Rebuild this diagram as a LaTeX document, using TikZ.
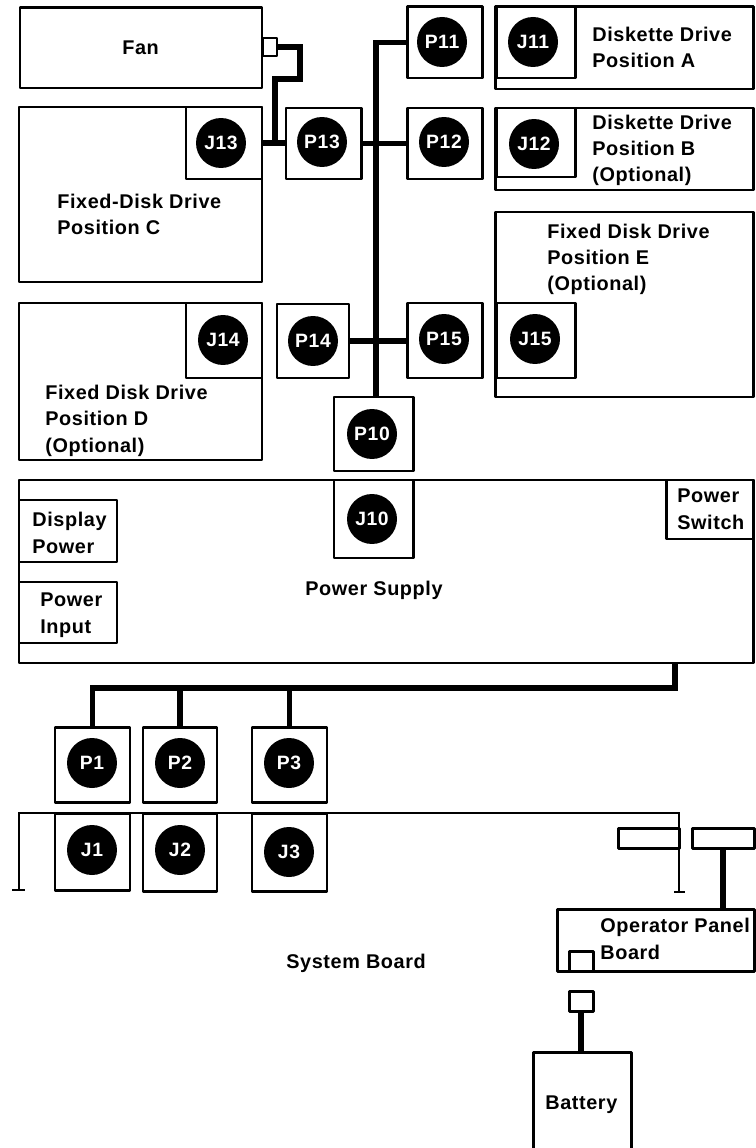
\documentclass[tikz,border=0pt]{standalone}
\usepackage{fontspec}
\setmainfont[LetterSpace=3,BoldFont={Liberation Sans Bold}]{Liberation Sans}
\usepackage{xcolor}
\begin{document}
\begin{tikzpicture}[
  x=0.02cm,y=-0.02cm,
  box/.style={draw=black, line width=1.7pt, line join=round, inner sep=0pt, minimum width={(#1)*0.02cm}},
  conn/.style={circle, fill=black, text=white, font=\fontsize{11}{13}\selectfont\bfseries, minimum size=1cm, inner sep=0pt},
  lbl/.style={anchor=base west, inner sep=0pt, align=left, font=\fontsize{11.3}{15}\selectfont\bfseries},
  wire/.style={line width=3pt, line join=miter},
  thinw/.style={line width=1.5pt}]
\useasboundingbox (0,0) rectangle (755,1148);
% units and drives
\foreach \n/\l/\t/\r/\b in {fan/20/8/262/88, fanplug/263/38/277/56, drvc/19/107/262/282, drvd/19/303/262/460,
    drva/495/7/753/89, drvb/495/108/753/190, drve/495/212/753/397, psu/19/480/753/663,
    disp/19/500/117/562, pwrin/19/582/117/643, pwrsw/666/480/753/539,
    brdl/618/828/679/848, brdr/692/828/754/848, panel/557/909/754/971, panplug/569/951/593/971,
    batplug/569/991/593/1011, battery/533/1052/631/1160}
  \node[box={\r-\l}, minimum height={(\b-\t)*0.02cm}] (\n) at ({(\l+\r)/2},{(\t+\b)/2}) {};
% plug and jack squares with their round labels
\foreach \n/\l/\t/\r/\b/\cx/\cy in {P11/407/7/482/78/442/42, J11/496/7/575/78/533/42, P12/407/108/482/179/444/142,
    J12/496/108/575/177/534/144, J13/186/107/262/179/221/143, P13/286/108/361/179/322/142,
    J14/186/303/262/378/223/340, P14/277/304/349/378/313/341, P15/407/303/482/378/444/339,
    J15/496/303/575/378/535/339, P10/334/397/413/471/372/434, J10/334/480/413/558/372/519,
    P1/55/727/130/802/92/763, P2/143/727/217/802/180/763, P3/252/727/327/802/289/763,
    J1/55/813/130/890/92/850, J2/143/813/217/891/180/850, J3/252/813/327/891/289/852} {
  \node[box={\r-\l}, minimum height={(\b-\t)*0.02cm}] (\n) at ({(\l+\r)/2},{(\t+\b)/2}) {};
  \node[conn] (\n c) at (\cx,\cy) {\n};
}
% wiring
\coordinate (bustop) at (376,42.5);
\coordinate (fanbend) at (300,79);
\coordinate (fandrop) at (275,143);
\coordinate (psuout) at (675,688);
\coordinate (panwire) at (723,848);
\draw[wire] (P11.west) -- (bustop) -- (bustop |- P10.north);
\draw[wire] (J13.east) -- (J13.east -| P13.west);
\draw[wire] (P13.east) -- (P13.east -| P12.west);
\draw[wire] (P14.east) -- (P14.east -| P15.west);
\draw[wire] (fanplug.east) -| (fanbend) -- (fanbend -| fandrop) -- (fandrop);
\draw[wire] (psuout |- psu.south) -- (psuout) -| (P1.north);
\draw[wire] (P2.north) -- (P2.north |- psuout);
\draw[wire] (P3.north) -- (P3.north |- psuout);
\draw[wire] (panwire) -- (panwire |- panel.north);
\draw[wire] (batplug.south) -- (batplug.south |- battery.north);
% system board outline
\coordinate (sbl) at (19,813);
\coordinate (sbr) at (679,813);
\draw[thinw] (12,890) -- (25,890);
\draw[thinw] (19,890) -- (sbl) -- (sbr) -- (679,892);
\draw[thinw] (674,892) -- (685,892);
% text
\node[lbl] (tfan) at (122,55) {Fan};
\node[lbl] (tdrvc) at (57,235) {Fixed-Disk Drive\\Position C};
\node[lbl] (tdrvd) at (45,452) {Fixed Disk Drive\\Position D\\(Optional)};
\node[lbl] (tdrva) at (592,68) {Diskette Drive\\Position A};
\node[lbl] (tdrvb) at (592,182) {Diskette Drive\\Position B\\(Optional)};
\node[lbl] (tdrve) at (547,291) {Fixed Disk Drive\\Position E\\(Optional)};
\node[lbl] (tdisp) at (32,553) {Display\\Power};
\node[lbl] (tpwrin) at (40,633) {Power\\Input};
\node[lbl] (tpsu) at (305,595) {Power Supply};
\node[lbl] (tsw) at (677,529) {Power\\Switch};
\node[lbl] (tsb) at (286,968) {System Board};
\node[lbl] (tpanel) at (600,959) {Operator Panel\\Board};
\node[lbl] (tbat) at (545,1109) {Battery};
\end{tikzpicture}
\end{document}
